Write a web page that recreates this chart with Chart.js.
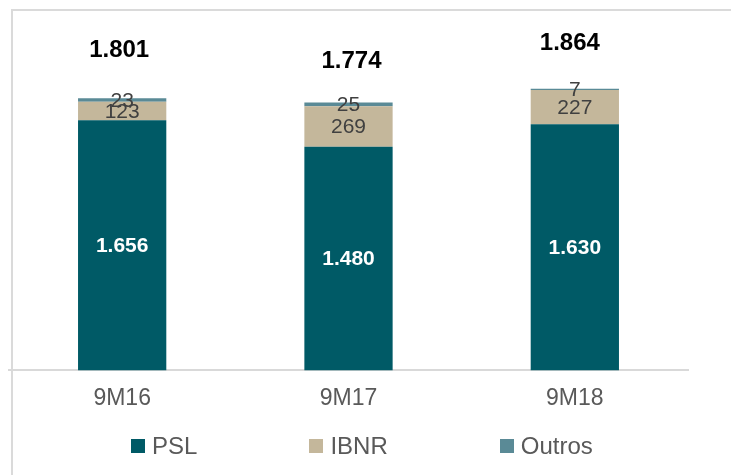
<!DOCTYPE html>
<html>
<head>
<meta charset="utf-8">
<script src="https://cdn.jsdelivr.net/npm/chart.js@4.4.1/dist/chart.umd.min.js"></script>
<style>
html,body{margin:0;padding:0;background:#fff;}
#wrap{position:relative;width:731px;height:475px;overflow:hidden;font-family:"Liberation Sans",Arial,sans-serif;}
#frame{position:absolute;left:11px;top:9px;width:730px;height:480px;border-top:2px solid #dadada;border-left:2px solid #dadada;}
#c{position:absolute;left:0;top:0;}
#legend{position:absolute;left:131px;top:434px;display:flex;gap:112px;}
#legend .it{display:flex;align-items:center;height:24px;font-size:24px;line-height:24px;color:#595959;}
#legend .bx{width:14px;height:14px;margin-right:7px;}
</style>
</head>
<body>
<div id="wrap">
  <div id="frame"></div>
  <canvas id="c" width="731" height="475"></canvas>
  <div id="legend"></div>
</div>
<script>
const categories=['9M16','9M17','9M18'];
const psl=[1656,1480,1630];
const ibnr=[123,269,227];
const outros=[23,25,7];
const totals=[1801,1774,1864];

const colors={psl:'#005a66',ibnr:'#c4b79b',outros:'#5a8a96'};

const fmt=v=>String(v).replace(/\B(?=(\d{3})+(?!\d))/g,'.');

const labelsPlugin={
  id:'labels',
  afterDatasetsDraw(chart,args,opts){
    const ctx=chart.ctx;
    ctx.save();
    ctx.textAlign='center';
    ctx.textBaseline='middle';
    chart.data.datasets.forEach((ds,i)=>{
      chart.getDatasetMeta(i).data.forEach((bar,j)=>{
        ctx.fillStyle=ds.labelColor;
        ctx.font=ds.labelFont;
        ctx.fillText(fmt(ds.data[j]),bar.x,(bar.y+bar.base)/2+1);
      });
    });
    // totals above the stacks
    const last=chart.getDatasetMeta(chart.data.datasets.length-1).data;
    ctx.fillStyle='#000';
    ctx.font='bold 24px "Liberation Sans", Arial, sans-serif';
    last.forEach((bar,j)=>{
      ctx.fillText(fmt(totals[j]),bar.x+opts.shiftX[j],bar.y-opts.lift[j]);
    });
    ctx.restore();
  }
};

const segFont='21px "Liberation Sans", Arial, sans-serif';

new Chart(document.getElementById('c'),{
  type:'bar',
  data:{
    labels:categories,
    datasets:[
      {label:'PSL',data:psl,backgroundColor:colors.psl,labelColor:'#fff',labelFont:'bold 21px "Liberation Sans", Arial, sans-serif'},
      {label:'IBNR',data:ibnr,backgroundColor:colors.ibnr,labelColor:'#404040',labelFont:segFont},
      {label:'Outros',data:outros,backgroundColor:colors.outros,labelColor:'#404040',labelFont:segFont}
    ].map(d=>Object.assign(d,{categoryPercentage:1,barPercentage:0.39,borderWidth:0}))
  },
  options:{
    responsive:false,
    animation:false,
    layout:{padding:{left:9,right:43,top:23,bottom:49}},
    plugins:{
      legend:{display:false},
      tooltip:{enabled:false},
      labels:{lift:[48,41,45],shiftX:[-3,3,-5]}
    },
    scales:{
      x:{
        stacked:true,
        grid:{display:false,drawTicks:false},
        border:{color:'#d9d9d9',width:2},
        ticks:{color:'#595959',padding:14,font:{size:23,family:'"Liberation Sans", Arial, sans-serif'}}
      },
      y:{stacked:true,display:false,min:0,max:2300}
    }
  },
  plugins:[labelsPlugin]
});

const lg=document.getElementById('legend');
[['PSL',colors.psl],['IBNR',colors.ibnr],['Outros',colors.outros]].forEach(([t,c])=>{
  const it=document.createElement('div');
  it.className='it';
  it.innerHTML='<span class="bx" style="background:'+c+'"></span><span>'+t+'</span>';
  lg.appendChild(it);
});
</script>
</body>
</html>
